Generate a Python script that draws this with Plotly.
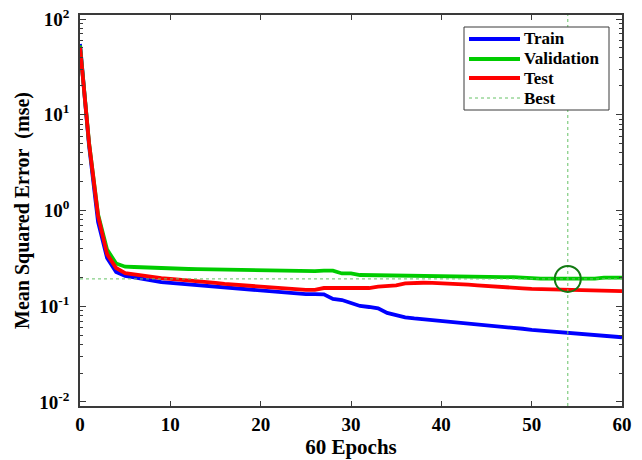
import numpy as np
import plotly.graph_objects as go

# Mean squared error per training epoch (0..60)
epochs = list(range(61))

train_mse = [54.8, 4.8, 0.76, 0.319, 0.228, 0.207, 0.200, 0.192, 0.184, 0.179,
             0.175, 0.172, 0.169, 0.165, 0.161, 0.157, 0.155, 0.152, 0.150, 0.148,
             0.145, 0.143, 0.141, 0.139, 0.137, 0.134, 0.134, 0.133, 0.119, 0.116,
             0.108, 0.1006, 0.0982, 0.0952, 0.0851, 0.0800, 0.0767, 0.0745, 0.0731, 0.0714,
             0.0697, 0.0686, 0.0676, 0.0665, 0.0653, 0.0637, 0.0622, 0.0611, 0.0600, 0.0582,
             0.0565, 0.0555, 0.0545, 0.0535, 0.0526, 0.0516, 0.0507, 0.0498, 0.0489, 0.0481,
             0.0474]

val_mse = [53.0, 5.1, 0.91, 0.39, 0.28, 0.259, 0.257, 0.254, 0.251, 0.251,
           0.248, 0.247, 0.245, 0.244, 0.243, 0.242, 0.241, 0.240, 0.240, 0.239,
           0.239, 0.236, 0.233, 0.232, 0.231, 0.230, 0.233, 0.235, 0.235, 0.220,
           0.220, 0.212, 0.211, 0.211, 0.211, 0.211, 0.211, 0.211, 0.206, 0.205,
           0.204, 0.203, 0.202, 0.201, 0.201, 0.201, 0.201, 0.201, 0.201, 0.198,
           0.195, 0.194, 0.194, 0.194, 0.193, 0.194, 0.194, 0.194, 0.199, 0.199,
           0.199]

test_mse = [51.0, 5.07, 0.88, 0.35, 0.251, 0.222, 0.215, 0.208, 0.202, 0.197,
            0.193, 0.190, 0.186, 0.182, 0.178, 0.175, 0.171, 0.168, 0.167, 0.164,
            0.161, 0.159, 0.157, 0.154, 0.151, 0.148, 0.148, 0.155, 0.155, 0.155,
            0.155, 0.155, 0.155, 0.160, 0.162, 0.165, 0.173, 0.175, 0.176, 0.175,
            0.174, 0.172, 0.171, 0.168, 0.165, 0.162, 0.161, 0.158, 0.156, 0.154,
            0.152, 0.151, 0.150, 0.149, 0.148, 0.148, 0.147, 0.147, 0.146, 0.145,
            0.144]

best_epoch = 54
best_perf = val_mse[best_epoch]

series_names = ["Train", "Validation", "Test", "Best"]

x_ticks = [0, 10, 20, 30, 40, 50, 60]
y_ticks = [1e-2, 1e-1, 1e0, 1e1, 1e2]
y_tick_text = ["10<sup>-2</sup>", "10<sup>-1</sup>", "10<sup>0</sup>",
               "10<sup>1</sup>", "10<sup>2</sup>"]

# axis limits (log-decade range slightly padded like the MATLAB axes)
x_lim = [0, 60]
y_lim_log = [-2.042, 2.042]
y_lim = [10 ** y_lim_log[0], 10 ** y_lim_log[1]]

minor_vals = [m * 10.0 ** k for k in range(-3, 3) for m in range(2, 10)]

SERIF = "Liberation Serif, Times New Roman, serif"
AXIS_COLOR = "#3a3a3a"
COLORS = ["#0000ff", "#00cc00", "#ff0000"]
BEST_COLOR = "#66c266"
LINE_W = 3.8

W, H = 642, 460
M = dict(l=80, r=20, t=15, b=54)
PW, PH = W - M["l"] - M["r"], H - M["t"] - M["b"]


def px(x):
    """pixel column -> paper x"""
    return (x - M["l"]) / PW


def py(y):
    """pixel row -> paper y"""
    return 1 - (y - M["t"]) / PH


fig = go.Figure()
for name, vals, col in zip(series_names[:3], [train_mse, val_mse, test_mse], COLORS):
    fig.add_trace(go.Scatter(x=epochs, y=vals, mode="lines", name=name,
                             showlegend=False, line=dict(color=col, width=LINE_W)))

# best-epoch guide lines
fig.add_trace(go.Scatter(x=[best_epoch, best_epoch, None, x_lim[0], x_lim[1]],
                         y=[y_lim[0], y_lim[1], None, best_perf, best_perf],
                         mode="lines", name="Best", showlegend=False,
                         line=dict(color=BEST_COLOR, width=1, dash="dot")))
fig.add_trace(go.Scatter(x=[best_epoch], y=[best_perf], mode="markers",
                         showlegend=False,
                         marker=dict(symbol="circle-open", size=26,
                                     line=dict(color="#127a12", width=2),
                                     color="#127a12")))

# legend box drawn above the plot contents
shapes = [dict(type="rect", xref="paper", yref="paper",
               x0=px(464), x1=px(609), y0=py(110), y1=py(27),
               fillcolor="white", line=dict(color=AXIS_COLOR, width=1),
               layer="above")]
annotations = []
row_y = [39, 59, 78, 98]
for i, name in enumerate(series_names):
    if i < 3:
        line = dict(color=COLORS[i], width=LINE_W)
    else:
        line = dict(color=BEST_COLOR, width=1, dash="dot")
    shapes.append(dict(type="line", xref="paper", yref="paper",
                       x0=px(469), x1=px(520), y0=py(row_y[i]), y1=py(row_y[i]),
                       line=line, layer="above"))
    annotations.append(dict(text=name, xref="paper", yref="paper",
                            x=px(522), y=py(row_y[i]), xanchor="left",
                            yanchor="middle", showarrow=False,
                            font=dict(family=SERIF, size=17, color="black",
                                      weight="bold")))

fig.update_layout(
    width=W, height=H,
    margin=M,
    paper_bgcolor="white", plot_bgcolor="white",
    font=dict(family=SERIF, color="black", size=18, weight="bold"),
    showlegend=False,
    shapes=shapes, annotations=annotations,
)

fig.update_xaxes(
    range=x_lim, tickvals=x_ticks, ticks="inside", ticklen=5,
    tickcolor=AXIS_COLOR, showline=True, linecolor=AXIS_COLOR, linewidth=1.5,
    mirror="allticks", showgrid=False, zeroline=False, automargin=False,
    ticklabelstandoff=0,
    tickfont=dict(family=SERIF, size=19, weight="bold"),
    title=dict(text="60 Epochs", standoff=5,
               font=dict(family=SERIF, size=21, weight="bold")),
)

fig.update_yaxes(
    type="log", range=y_lim_log, tickvals=y_ticks, ticktext=y_tick_text,
    ticks="inside", ticklen=6, tickcolor=AXIS_COLOR,
    showline=True, linecolor=AXIS_COLOR, linewidth=1.5,
    mirror="allticks", showgrid=False, zeroline=False, automargin=False,
    ticklabelstandoff=5,
    minor=dict(tickvals=minor_vals, ticks="inside", ticklen=3,
               tickcolor=AXIS_COLOR, showgrid=False),
    tickfont=dict(family=SERIF, size=19, weight="bold"),
    title=dict(text="Mean Squared Error\u00a0\u00a0(mse)", standoff=4,
               font=dict(family=SERIF, size=20, weight="bold")),
)

fig.write_html("out.html")
